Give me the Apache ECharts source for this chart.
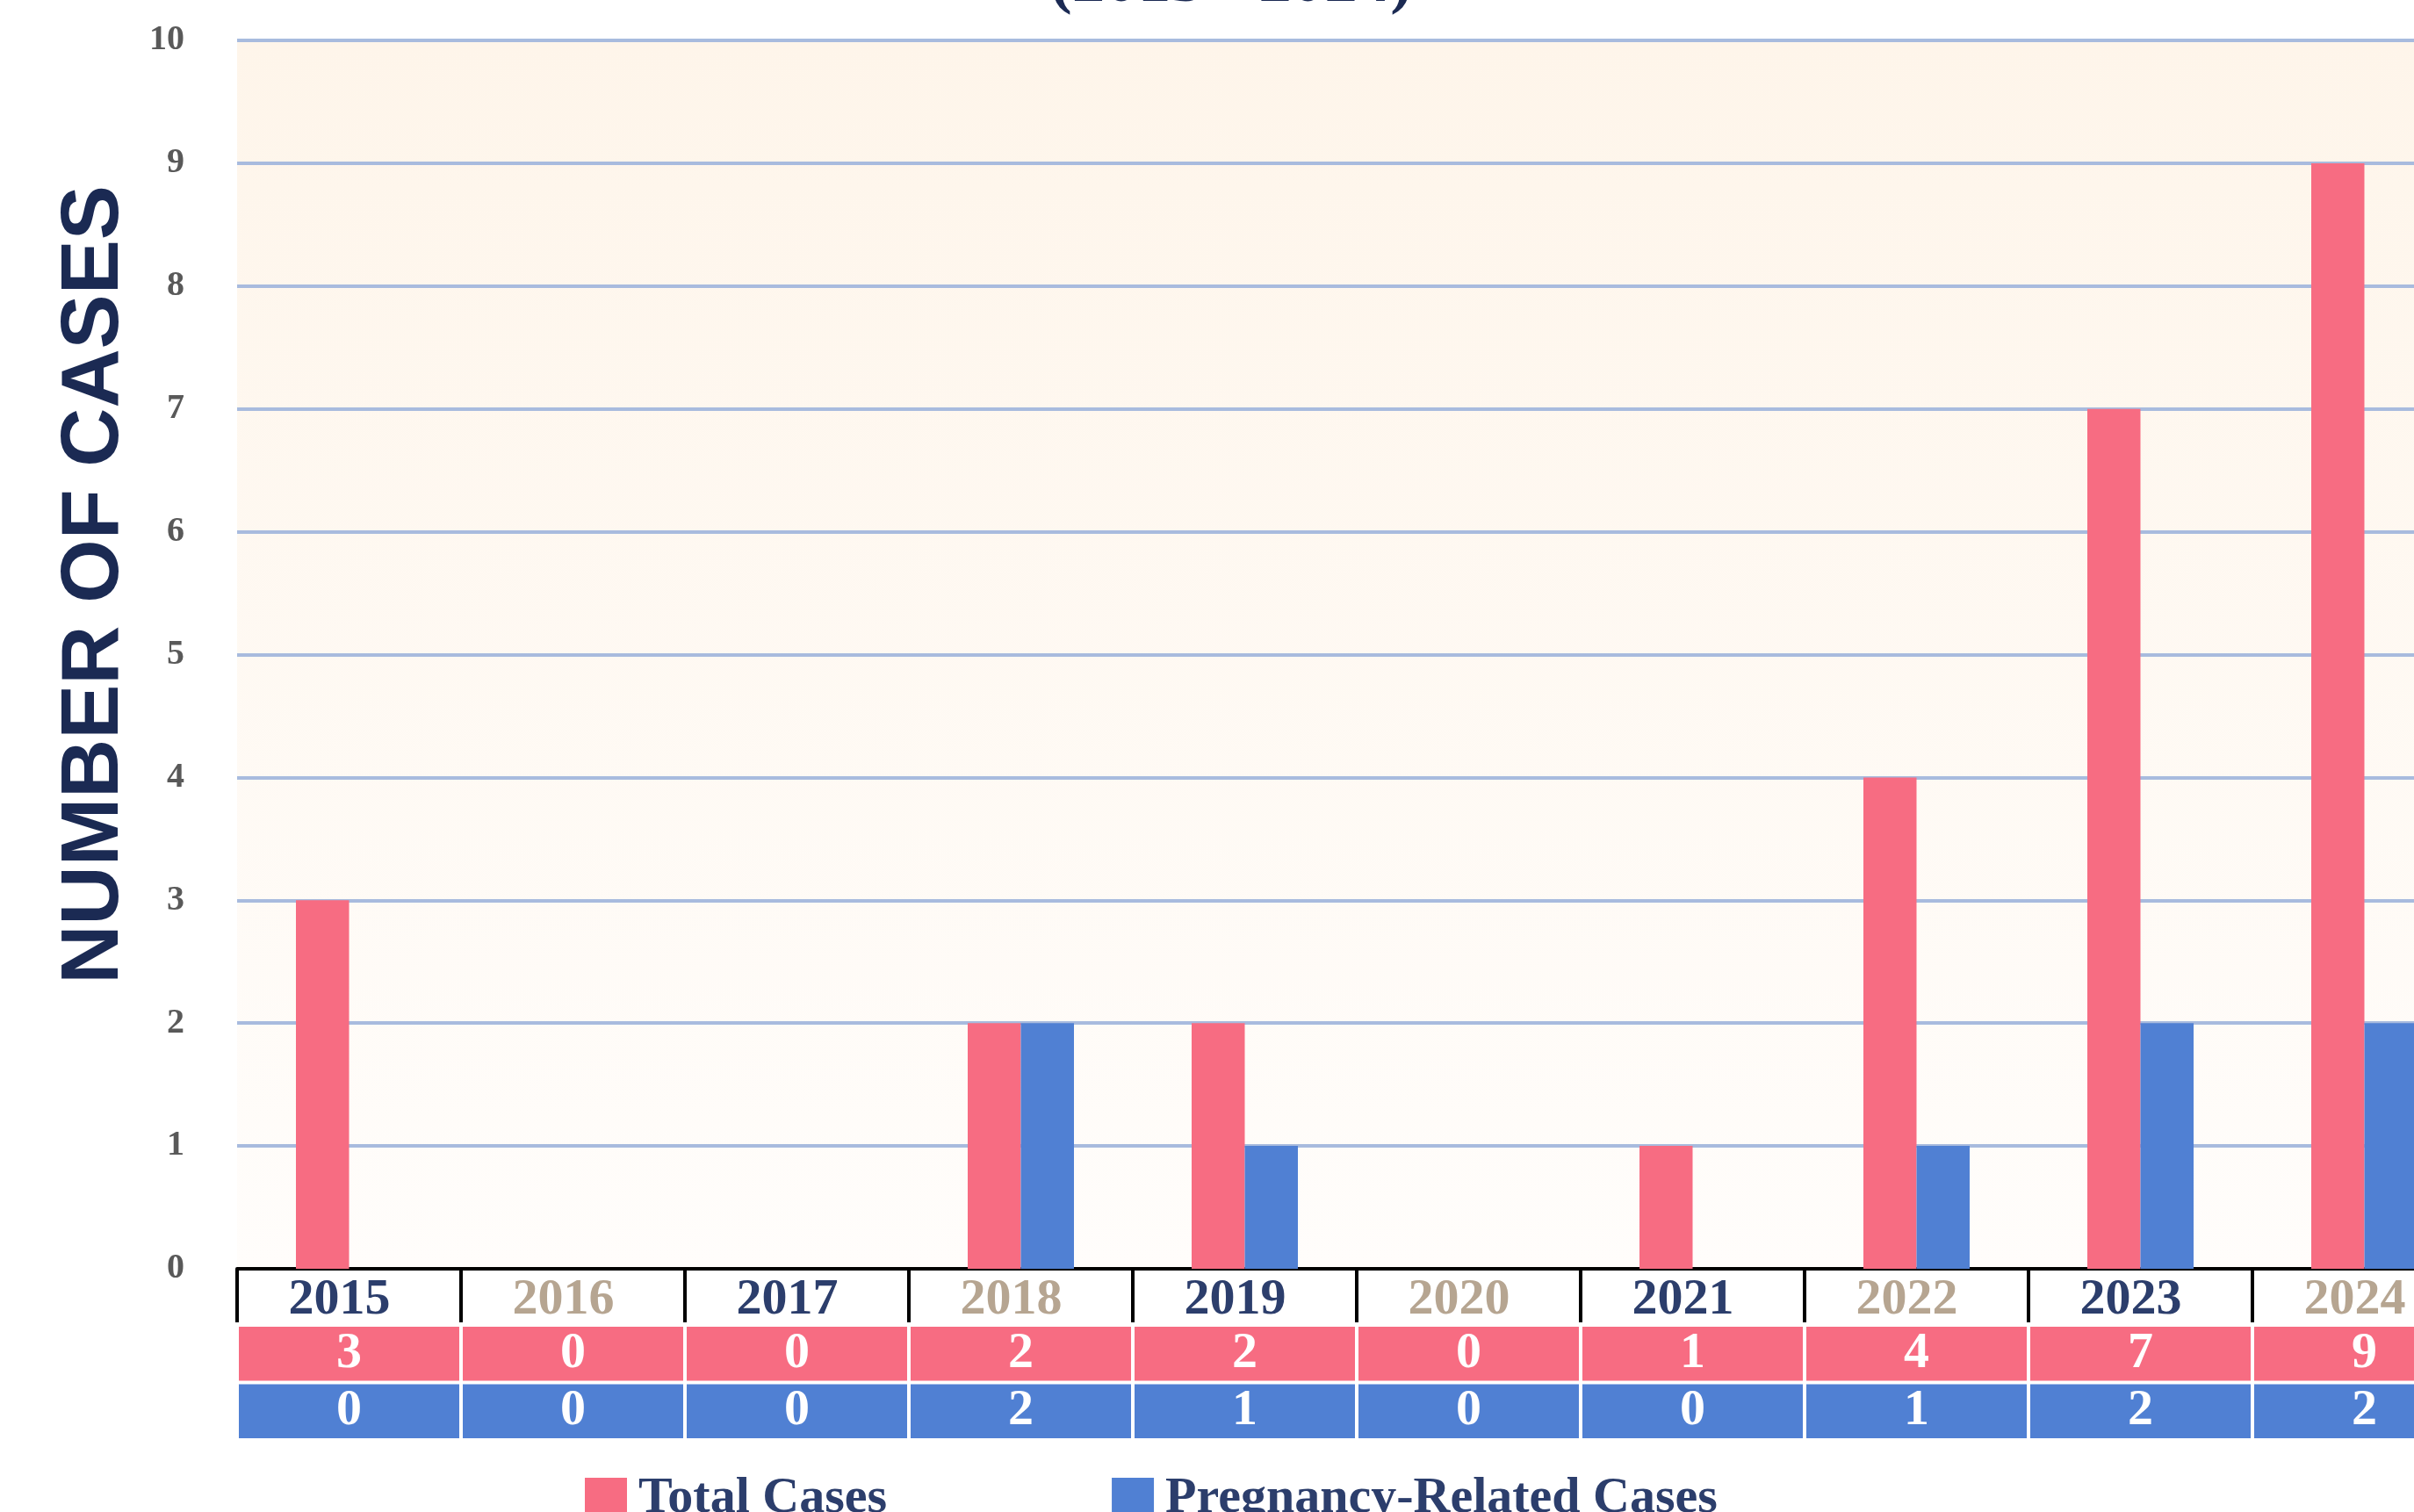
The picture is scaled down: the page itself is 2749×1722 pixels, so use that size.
<!DOCTYPE html>
<html>
<head>
<meta charset="utf-8">
<script src="https://cdn.jsdelivr.net/npm/echarts@6/dist/echarts.min.js"></script>
<style>
html,body{margin:0;padding:0;background:#ffffff;overflow:hidden;width:2749px;height:1722px}
#c{width:2820px;height:1722px}
</style>
</head>
<body>
<div id="c"></div>
<script>
// ---- data ----
const years = ['2015','2016','2017','2018','2019','2020','2021','2022','2023','2024'];
const totalCases = [3,0,0,2,2,0,1,4,7,9];
const pregnancyCases = [0,0,0,2,1,0,0,1,2,2];
const seriesNames = ['Total Cases','Pregnancy-Related Cases'];
const titleText = '(2015 - 2024)';
const yAxisTitle = 'NUMBER OF CASES';
const yMin = 0, yMax = 10, yStep = 1;

// ---- style ----
const PINK = '#F76C82';
const BLUE = '#5080D3';
const NAVY = '#1B2A53';
const YEAR_DARK = '#2C3E6C';
const YEAR_LIGHT = '#B6A591';
const SERIF = '"Liberation Serif", "Times New Roman", serif';

const tableRows = [totalCases, pregnancyCases];
const tableData = [];
tableRows.forEach((arr, r) => arr.forEach((v, i) => tableData.push([i, r, v])));

const chart = echarts.init(document.getElementById('c'), null, {renderer: 'canvas'});

chart.setOption({
  animation: false,
  backgroundColor: '#ffffff',
  color: [PINK, BLUE],
  graphic: [
    {
      type: 'text', x: 1402, y: -18, z: 10,
      style: {text: titleText, align: 'center', verticalAlign: 'middle',
              fill: NAVY, font: 'bold 75px ' + SERIF}
    },
    {
      type: 'text', x: 108, y: 666, rotation: Math.PI / 2, z: 10,
      style: {text: yAxisTitle, align: 'center', verticalAlign: 'middle',
              fill: NAVY, font: 'bold 93px "Liberation Sans", Arial, sans-serif'}
    }
  ],
  legend: {
    data: seriesNames,
    left: 661, top: 1673,
    itemWidth: 48, itemHeight: 48, itemGap: 256,
    icon: 'rect',
    textStyle: {color: YEAR_DARK, fontFamily: SERIF, fontWeight: 'bold', fontSize: 58,
                padding: [0, 0, 0, 8]}
  },
  grid: [
    {
      left: 270, right: 0, top: 46, bottom: 277,
      show: true, borderWidth: 0,
      backgroundColor: new echarts.graphic.LinearGradient(0, 0, 0, 1, [
        {offset: 0, color: '#FEF5EA'},
        {offset: 1, color: '#FFFDFB'}
      ])
    },
    {left: 270, right: 0, top: 1509, height: 131, show: false}
  ],
  xAxis: [
    {
      type: 'category', gridIndex: 0, data: years,
      axisLine: {show: true, lineStyle: {color: '#000000', width: 4}},
      axisTick: {show: true, length: 61, interval: 0, lineStyle: {color: '#000000', width: 4}},
      axisLabel: {
        interval: 0, margin: 36, verticalAlign: 'middle', padding: [0, 22, 0, 0],
        fontFamily: SERIF, fontWeight: 'bold', fontSize: 58,
        color: (v, i) => (i % 2 === 0 ? YEAR_DARK : YEAR_LIGHT)
      },
      splitLine: {show: false}
    },
    {type: 'category', gridIndex: 1, data: years, show: false}
  ],
  yAxis: [
    {
      type: 'value', gridIndex: 0, min: yMin, max: yMax, interval: yStep,
      axisLine: {show: false}, axisTick: {show: false},
      axisLabel: {margin: 60, fontFamily: SERIF, fontWeight: 'bold', fontSize: 40, color: '#595959'},
      splitLine: {show: true, lineStyle: {color: '#A8BBDE', width: 4}}
    },
    {type: 'category', gridIndex: 1, data: seriesNames, inverse: true, show: false}
  ],
  series: [
    {
      name: seriesNames[0], type: 'bar', xAxisIndex: 0, yAxisIndex: 0,
      data: totalCases, barWidth: 60.5, barGap: '0%',
      itemStyle: {color: PINK}
    },
    {
      name: seriesNames[1], type: 'bar', xAxisIndex: 0, yAxisIndex: 0,
      data: pregnancyCases, barWidth: 60.5, barGap: '0%',
      itemStyle: {color: BLUE}
    },
    {
      type: 'custom', xAxisIndex: 1, yAxisIndex: 1,
      data: tableData, encode: {x: 0, y: 1},
      renderItem: function (params, api) {
        const xi = api.value(0), row = api.value(1), v = api.value(2);
        const c = api.coord([xi, row]);
        const s = api.size([1, 1]);
        return {
          type: 'group',
          children: [
            {type: 'rect',
             shape: {x: c[0] - s[0] / 2 + 2, y: c[1] - s[1] / 2 + 2, width: s[0] - 4, height: s[1] - 4},
             style: {fill: row === 0 ? PINK : BLUE}},
            {type: 'text',
             style: {text: String(v), x: c[0], y: c[1], align: 'center', verticalAlign: 'middle',
                     fill: '#ffffff', font: 'bold 58px ' + SERIF}}
          ]
        };
      }
    }
  ]
});
</script>
</body>
</html>
